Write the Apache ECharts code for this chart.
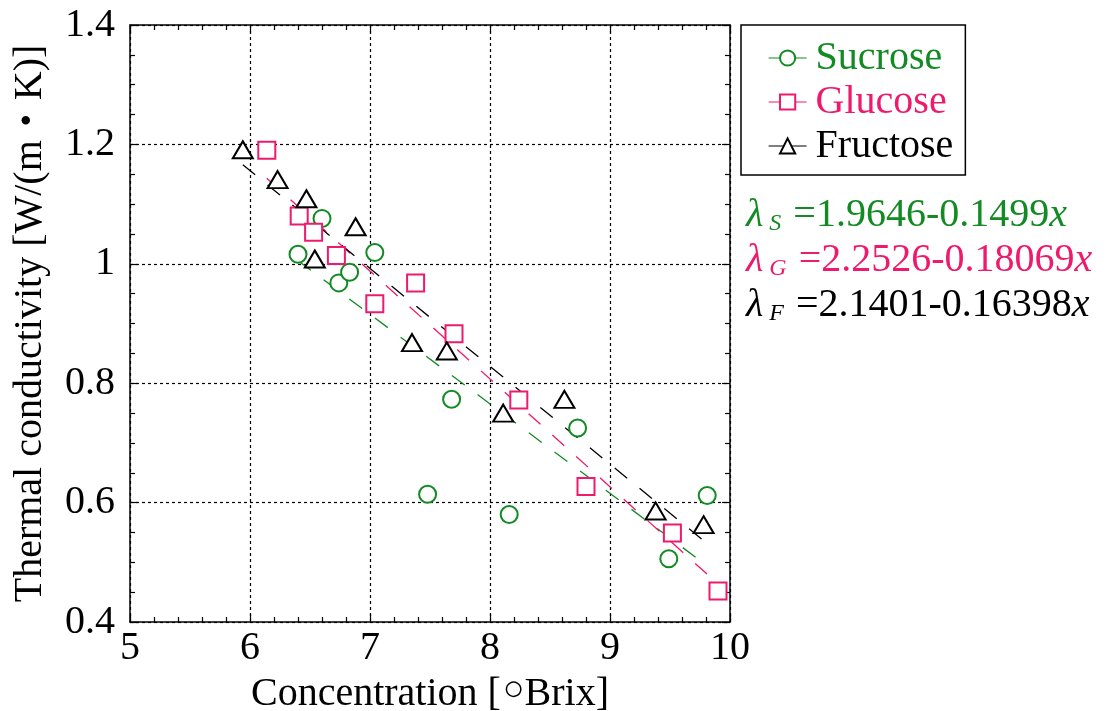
<!DOCTYPE html>
<html>
<head>
<meta charset="utf-8">
<script src="https://cdn.jsdelivr.net/npm/echarts@6/dist/echarts.min.js"></script>
<style>
  html, body { margin: 0; padding: 0; background: #fff; }
  #chart { width: 1107px; height: 711px; }
</style>
</head>
<body>
<div id="chart"></div>
<script>
// Measured thermal conductivity of sugar solutions vs. concentration
const sucroseX  = [6.40, 6.60, 6.74, 6.83, 7.04, 7.48, 7.68, 8.16, 8.73, 9.49, 9.81];
const sucroseY  = [1.016, 1.076, 0.968, 0.986, 1.019, 0.614, 0.773, 0.580, 0.725, 0.506, 0.612];
const glucoseX  = [6.14, 6.41, 6.53, 6.72, 7.04, 7.38, 7.70, 8.24, 8.80, 9.52, 9.90];
const glucoseY  = [1.190, 1.080, 1.053, 1.014, 0.933, 0.968, 0.883, 0.772, 0.627, 0.549, 0.452];
const fructoseX = [5.94, 6.23, 6.47, 6.54, 6.88, 7.35, 7.64, 8.11, 8.62, 9.38, 9.78];
const fructoseY = [1.191, 1.141, 1.109, 1.008, 1.062, 0.868, 0.854, 0.750, 0.773, 0.586, 0.563];

// Linear fits: lambda = a - b * x
const fitIntercepts = [1.9646, 2.2526, 2.1401];
const fitSlopes     = [0.1499, 0.18069, 0.16398];
const fitIntText    = ['1.9646', '2.2526', '2.1401'];
const fitSlopeText  = ['0.1499', '0.18069', '0.16398'];
const fitSubs       = ['S', 'G', 'F'];

const seriesNames = ['Sucrose', 'Glucose', 'Fructose'];
const xTicks = [5, 6, 7, 8, 9, 10];
const yTicks = [0.4, 0.6, 0.8, 1.0, 1.2, 1.4];

const GREEN = '#138a23';
const PINK = '#ee1a6c';
const BLACK = '#000000';
const colors = [GREEN, PINK, BLACK];
const symbols = ['emptyCircle', 'emptyRect', 'emptyTriangle'];
const symbolSizes = [17, 17, [20, 17]];
const FONT = "'Liberation Serif', 'Times New Roman', 'Noto Sans CJK JP', serif";

const xs = [sucroseX, glucoseX, fructoseX];
const ys = [sucroseY, glucoseY, fructoseY];

function pairs(a, b) { return a.map((v, i) => [v, b[i]]); }

function fitLine(k) {
  const lo = Math.min.apply(null, xs[k]);
  const hi = Math.max.apply(null, xs[k]);
  return [lo, hi].map(x => [x, fitIntercepts[k] - fitSlopes[k] * x]);
}

const chart = echarts.init(document.getElementById('chart'));

const axisLineStyle = { color: '#000', width: 1.5 };
const tickStyle = { color: '#000', width: 1.2 };

function frameAxis(pos, min, max, interval, minorSplit) {
  return {
    type: 'value', position: pos, min: min, max: max, interval: interval,
    axisLine: { show: true, onZero: false, lineStyle: axisLineStyle },
    axisTick: { show: true, inside: true, length: 8, lineStyle: tickStyle },
    minorTick: { show: true, splitNumber: minorSplit, length: 5, lineStyle: tickStyle },
    axisLabel: { show: false },
    splitLine: { show: false }
  };
}

const series = [];
for (let k = 0; k < 3; k++) {
  series.push({
    name: seriesNames[k] + ' fit',
    type: 'line',
    data: fitLine(k),
    symbol: 'none',
    silent: true,
    z: 2,
    lineStyle: { color: colors[k], width: 1.3, type: [16, 16] }
  });
}
for (let k = 0; k < 3; k++) {
  series.push({
    name: seriesNames[k],
    type: 'line',
    data: pairs(xs[k], ys[k]),
    symbol: symbols[k],
    symbolSize: symbolSizes[k],
    showAllSymbol: true,
    z: 3,
    itemStyle: { color: colors[k], borderWidth: 1.5 },
    lineStyle: { color: colors[k], width: 0, opacity: 0 }
  });
}

// Fit equations shown beside the plot
const titles = [];
for (let k = 0; k < 3; k++) {
  const base = { fontFamily: FONT, fontWeight: 'normal', color: colors[k] };
  titles.push({
    left: 746, top: 194 + k * 45, padding: 0,
    text: '{l|λ}{s|' + fitSubs[k] + '}{n|=' + fitIntText[k] + '-' + fitSlopeText[k] + '}{x|x}',
    textStyle: {
      fontWeight: 'normal',
      rich: {
        l: Object.assign({ fontStyle: 'italic', fontSize: 40, lineHeight: 42 }, base),
        s: Object.assign({ fontStyle: 'italic', fontSize: 24, lineHeight: 26, verticalAlign: 'bottom', padding: [0, 12, 0, 6] }, base),
        n: Object.assign({ fontSize: 40, lineHeight: 42 }, base),
        x: Object.assign({ fontStyle: 'italic', fontSize: 40, lineHeight: 42 }, base)
      }
    }
  });
}

chart.setOption({
  animation: false,
  backgroundColor: '#fff',
  title: titles,
  grid: { left: 130, top: 25, width: 600, height: 597, containLabel: false, outerBoundsMode: 'none' },
  legend: {
    orient: 'vertical', left: 741, top: 25,
    padding: [13, 12, 9, 27], itemGap: 4,
    itemWidth: 38, itemHeight: 19,
    borderColor: '#000', borderWidth: 1.5, borderRadius: 0,
    selectedMode: false,
    lineStyle: { width: 1.2, opacity: 1 },
    textStyle: { fontFamily: FONT, fontSize: 40, lineHeight: 40, padding: [0, 0, 0, 4] },
    data: seriesNames.map((n, k) => ({ name: n, textStyle: { color: colors[k] } }))
  },
  xAxis: [
    {
      type: 'value', position: 'bottom', min: xTicks[0], max: xTicks[xTicks.length - 1], interval: 1,
      axisLine: { show: true, onZero: false, lineStyle: axisLineStyle },
      axisTick: { show: true, inside: true, length: 8, lineStyle: tickStyle },
      minorTick: { show: true, splitNumber: 5, length: 5, lineStyle: tickStyle },
      axisLabel: { color: '#000', fontFamily: FONT, fontSize: 40, margin: 6,
        formatter: v => xTicks.indexOf(v) >= 0 ? String(v) : '' },
      splitLine: { show: true, lineStyle: { color: '#000', width: 1.2, type: [3, 3] } },
      name: '{a|Concentration [}{o|○}{a|Brix]}',
      nameLocation: 'middle', nameGap: 45,
      nameTextStyle: {
        rich: {
          a: { fontFamily: FONT, fontSize: 40, color: '#000', lineHeight: 44 },
          o: { fontFamily: FONT, fontSize: 36, color: '#000', lineHeight: 22, verticalAlign: 'top', padding: [0, 0, 0, 2] }
        }
      }
    },
    frameAxis('top', xTicks[0], xTicks[xTicks.length - 1], 1, 5)
  ],
  yAxis: [
    {
      type: 'value', position: 'left', min: yTicks[0], max: yTicks[yTicks.length - 1], interval: 0.2,
      axisLine: { show: true, onZero: false, lineStyle: axisLineStyle },
      axisTick: { show: true, inside: true, length: 8, lineStyle: tickStyle },
      minorTick: { show: true, splitNumber: 4, length: 5, lineStyle: tickStyle },
      axisLabel: { color: '#000', fontFamily: FONT, fontSize: 40, margin: 15,
        formatter: v => String(Math.round(v * 10) / 10) },
      splitLine: { show: true, lineStyle: { color: '#000', width: 1.2, type: [3, 3] } },
      name: 'Thermal conductivity [W/(m・K)]',
      nameLocation: 'middle', nameGap: 80,
      nameTextStyle: { fontFamily: FONT, fontSize: 40, color: '#000' }
    },
    frameAxis('right', yTicks[0], yTicks[yTicks.length - 1], 0.2, 4)
  ],
  series: series
});
</script>
</body>
</html>
